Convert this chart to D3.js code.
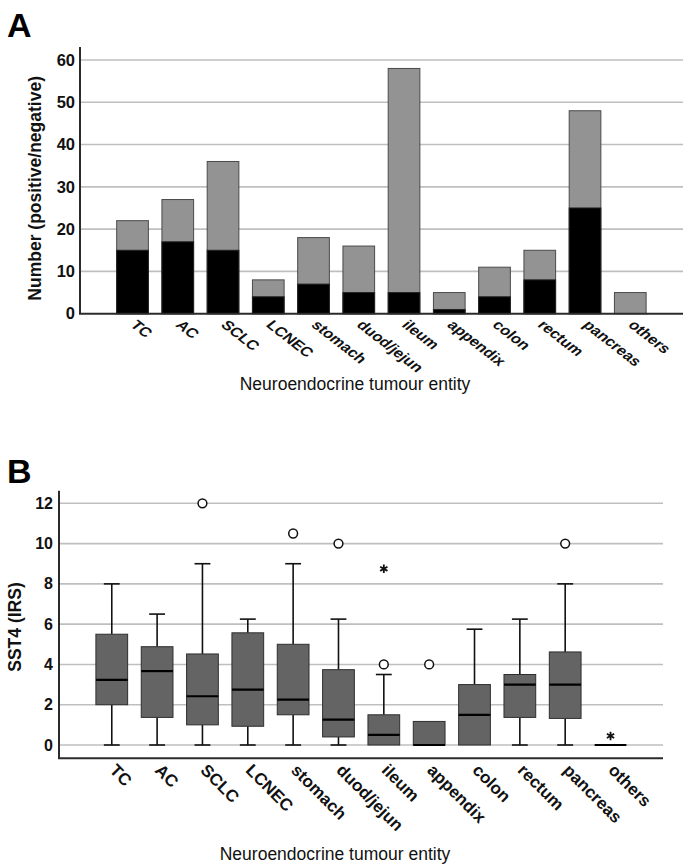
<!DOCTYPE html>
<html><head><meta charset="utf-8">
<script src="https://cdn.jsdelivr.net/npm/d3@7"></script>
<style>
html,body{margin:0;padding:0;background:#fff;}
svg{display:block;font-family:"Liberation Sans",Arial,sans-serif;}
</style></head>
<body>
<svg id="chart" width="685" height="867"></svg>
<script>
// ---------- DATA ----------
const categories = ["TC","AC","SCLC","LCNEC","stomach","duod/jejun","ileum","appendix","colon","rectum","pancreas","others"];
// Panel A: total counts and positive counts
const totalCounts    = [22,27,36,8,18,16,58,5,11,15,48,5];
const positiveCounts = [15,17,15,4,7,5,5,1,4,8,25,0];
const ticksA = [0,10,20,30,40,50,60];
// Panel B: box plot statistics of SST4 (IRS)
const whiskerLow  = [0,0,0,0,0,0,0,0,0,0,0,0];
const q1          = [2.0,1.37,1.0,0.93,1.5,0.4,0,0,0,1.37,1.32,0];
const medians     = [3.23,3.67,2.42,2.75,2.25,1.26,0.5,0,1.5,3.0,3.0,0];
const q3          = [5.5,4.88,4.52,5.57,5.0,3.74,1.5,1.17,3.0,3.5,4.62,0];
const whiskerHigh = [8,6.5,9,6.25,9,6.25,3.5,1.17,5.75,6.25,8,0];
const outliers = [[],[],[12],[],[10.5],[10],[4],[4],[],[],[10],[]];
const extremes = [[],[],[],[],[],[],[8.75],[],[],[],[],[0.45]];
const ticksB = [0,2,4,6,8,10,12];

const labelA = "Number (positive/negative)";
const labelB = "SST4 (IRS)";
const xTitle = "Neuroendocrine tumour entity";

// ---------- DRAW ----------
const svg = d3.select("#chart");
const FONT = '"Liberation Sans",Arial,sans-serif';
const gridCol = "#bfbfbf", axisCol = "#2b2b2b";

// ===== Panel A =====
const A = {left:80, right:683, top:47, bottom:313.7};
const yA = d3.scaleLinear().domain([0,60]).range([313.7,60]);
const xA = d3.scaleBand().domain(categories).range([109.9,652.9]).paddingInner(0.3).paddingOuter(0.15);
const gA = svg.append("g");

gA.selectAll("line.grid").data(ticksA.filter(d=>d>0)).join("line")
  .attr("x1",A.left).attr("x2",A.right).attr("y1",d=>yA(d)).attr("y2",d=>yA(d))
  .attr("stroke",gridCol).attr("stroke-width",1.6);

const barData = categories.map((c,i)=>({c,total:totalCounts[i],pos:positiveCounts[i]}));
gA.selectAll("rect.tot").data(barData).join("rect")
  .attr("x",d=>xA(d.c)).attr("width",xA.bandwidth())
  .attr("y",d=>yA(d.total)).attr("height",d=>yA(0)-yA(d.total))
  .attr("fill","#939393").attr("stroke","#4a4a4a").attr("stroke-width",1);
gA.selectAll("rect.pos").data(barData.filter(d=>d.pos>0)).join("rect")
  .attr("x",d=>xA(d.c)).attr("width",xA.bandwidth())
  .attr("y",d=>yA(d.pos)).attr("height",d=>yA(0)-yA(d.pos))
  .attr("fill","#000").attr("stroke","#222").attr("stroke-width",1);

// axes
gA.append("line").attr("x1",A.left).attr("x2",A.left).attr("y1",A.top).attr("y2",A.bottom)
  .attr("stroke",axisCol).attr("stroke-width",2);
gA.append("line").attr("x1",A.left-1).attr("x2",A.right).attr("y1",A.bottom).attr("y2",A.bottom)
  .attr("stroke",axisCol).attr("stroke-width",2);
const yAxisA = d3.axisLeft(yA).tickValues(ticksA).tickSize(0).tickPadding(5);
const gya = gA.append("g").attr("transform",`translate(${A.left},0)`).call(yAxisA);
gya.select(".domain").remove();
gya.selectAll("text").attr("font-family",FONT).attr("font-size",16.5).attr("font-weight","bold").attr("fill","#111");

gA.selectAll("text.xl").data(categories).join("text")
  .attr("transform",d=>`translate(${xA(d)+xA.bandwidth()/2-3},${A.bottom+12}) scale(1,0.78) rotate(45)`)
  .attr("font-family",FONT).attr("font-size",17).attr("font-weight","bold").attr("fill","#111")
  .text(d=>d);

gA.append("text").attr("transform",`translate(41,${(A.top+A.bottom)/2+8}) rotate(-90)`)
  .attr("text-anchor","middle").attr("font-family",FONT).attr("font-size",17.5).attr("font-weight","bold")
  .attr("fill","#111").text(labelA);
gA.append("text").attr("x",355).attr("y",390).attr("text-anchor","middle")
  .attr("font-family",FONT).attr("font-size",17.5).attr("fill","#111").text(xTitle);
gA.append("text").attr("x",7).attr("y",37).attr("font-family",FONT).attr("font-size",34).attr("font-weight","bold").text("A");

// ===== Panel B =====
const B = {left:59, right:663, top:490.7, bottom:758.3};
const yB = d3.scaleLinear().domain([0,12]).range([745,503.3]);
const xB = d3.scaleBand().domain(categories).range([89.1,633.2]).paddingInner(0.3).paddingOuter(0.15);
const gB = svg.append("g");

gB.selectAll("line.grid").data(ticksB).join("line")
  .attr("x1",B.left).attr("x2",B.right).attr("y1",d=>yB(d)).attr("y2",d=>yB(d))
  .attr("stroke",gridCol).attr("stroke-width",1.6);

const boxData = categories.map((c,i)=>({c,lo:whiskerLow[i],q1:q1[i],med:medians[i],q3:q3[i],hi:whiskerHigh[i],out:outliers[i],ext:extremes[i]}));
const bw = xB.bandwidth();
const boxes = gB.selectAll("g.box").data(boxData).join("g").attr("transform",d=>`translate(${xB(d.c)},0)`);
// whiskers
boxes.filter(d=>d.hi>d.q3).append("line").attr("x1",bw/2).attr("x2",bw/2).attr("y1",d=>yB(d.q3)).attr("y2",d=>yB(d.hi)).attr("stroke","#111").attr("stroke-width",1.6);
boxes.filter(d=>d.q1>d.lo).append("line").attr("x1",bw/2).attr("x2",bw/2).attr("y1",d=>yB(d.q1)).attr("y2",d=>yB(d.lo)).attr("stroke","#111").attr("stroke-width",1.6);
boxes.filter(d=>d.hi>d.q3).append("line").attr("x1",bw/4).attr("x2",bw*3/4).attr("y1",d=>yB(d.hi)).attr("y2",d=>yB(d.hi)).attr("stroke","#111").attr("stroke-width",1.6);
boxes.filter(d=>d.q1>d.lo).append("line").attr("x1",bw/4).attr("x2",bw*3/4).attr("y1",d=>yB(d.lo)).attr("y2",d=>yB(d.lo)).attr("stroke","#111").attr("stroke-width",1.6);
// box
boxes.filter(d=>d.q3>d.q1).append("rect").attr("x",0).attr("width",bw)
  .attr("y",d=>yB(d.q3)).attr("height",d=>yB(d.q1)-yB(d.q3))
  .attr("fill","#646464").attr("stroke","#2e2e2e").attr("stroke-width",1);
// median
boxes.append("line").attr("x1",0).attr("x2",bw).attr("y1",d=>yB(d.med)).attr("y2",d=>yB(d.med))
  .attr("stroke","#000").attr("stroke-width",2.2);
// outliers (circles)
boxes.selectAll("circle").data(d=>d.out).join("circle").attr("cx",bw/2).attr("cy",d=>yB(d)).attr("r",4.4)
  .attr("fill","#fff").attr("stroke","#111").attr("stroke-width",1.5);
// extremes (asterisks)
const ast = r => { const p=d3.path(); for(let k=0;k<3;k++){const a=Math.PI/2+k*Math.PI/3; p.moveTo(r*Math.cos(a),r*Math.sin(a)); p.lineTo(-r*Math.cos(a),-r*Math.sin(a));} return p.toString(); };
boxes.selectAll("path.ext").data(d=>d.ext).join("path").attr("class","ext")
  .attr("transform",d=>`translate(${bw/2},${yB(d)})`).attr("d",ast(4.2))
  .attr("stroke","#111").attr("stroke-width",1.8).attr("fill","none");

// axes
gB.append("line").attr("x1",B.left).attr("x2",B.left).attr("y1",B.top).attr("y2",B.bottom)
  .attr("stroke",axisCol).attr("stroke-width",2);
gB.append("line").attr("x1",B.left-1).attr("x2",B.right).attr("y1",B.bottom).attr("y2",B.bottom)
  .attr("stroke",axisCol).attr("stroke-width",2);
const yAxisB = d3.axisLeft(yB).tickValues(ticksB).tickSize(0).tickPadding(6);
const gyb = gB.append("g").attr("transform",`translate(${B.left},0)`).call(yAxisB);
gyb.select(".domain").remove();
gyb.selectAll("text").attr("font-family",FONT).attr("font-size",16).attr("font-weight","bold").attr("fill","#111");

gB.selectAll("text.xl").data(categories).join("text")
  .attr("transform",d=>`translate(${xB(d)+bw/2-3},${B.bottom+13}) rotate(45)`)
  .attr("font-family",FONT).attr("font-size",17).attr("font-weight","bold").attr("fill","#111")
  .text(d=>d);

gB.append("text").attr("transform",`translate(21,627) rotate(-90)`)
  .attr("text-anchor","middle").attr("font-family",FONT).attr("font-size",17.5).attr("font-weight","bold")
  .attr("fill","#111").text(labelB);
gB.append("text").attr("x",335).attr("y",860).attr("text-anchor","middle")
  .attr("font-family",FONT).attr("font-size",17.5).attr("fill","#111").text(xTitle);
gB.append("text").attr("x",7).attr("y",483).attr("font-family",FONT).attr("font-size",34).attr("font-weight","bold").text("B");
</script>
</body></html>
